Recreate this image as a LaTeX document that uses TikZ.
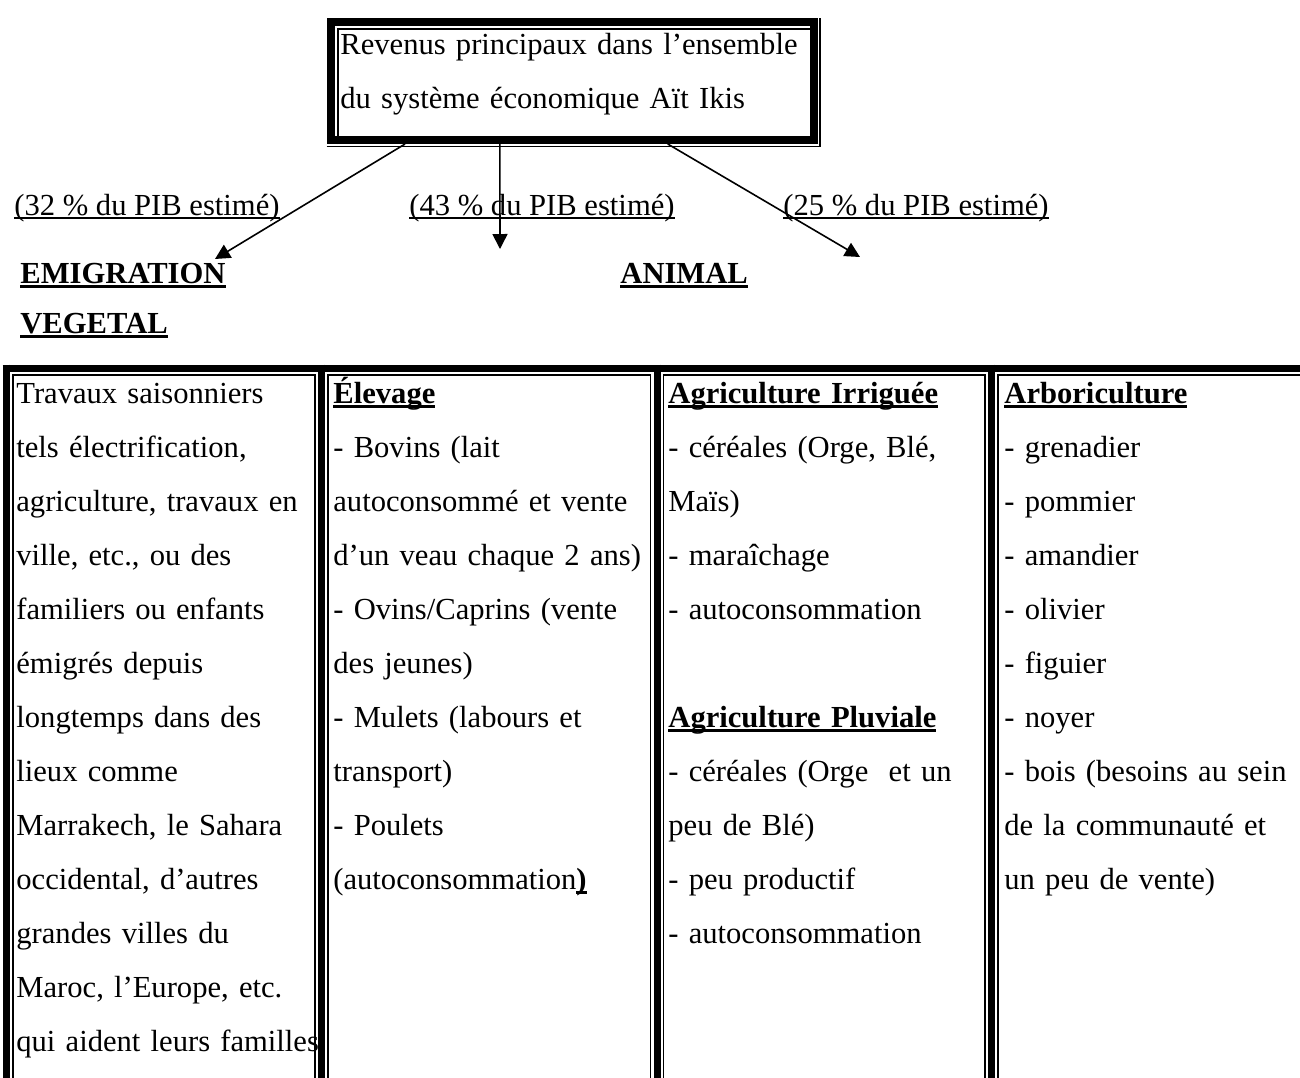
\documentclass[tikz,border=0pt]{standalone}
\usepackage{fontspec}
\setmainfont{Liberation Serif}
\usetikzlibrary{arrows.meta,calc}
\newsavebox{\boitesoul}
\newcommand{\souligne}[1]{\leavevmode\sbox{\boitesoul}{#1}\rlap{\rule[-2pt]{\wd\boitesoul}{1pt}}\usebox{\boitesoul}}
\newcommand{\titre}[1]{\leavevmode\sbox{\boitesoul}{\textbf{#1}}\rlap{\rule[-2.4pt]{\wd\boitesoul}{1.3pt}}\usebox{\boitesoul}}
\begin{document}
\begin{tikzpicture}[x=0.5pt,y=-0.5pt,
		texte/.style={inner sep=0pt,font=\fontsize{15.3}{27}\selectfont},
		colonne/.style={texte,text width=160pt,align=left,anchor=base west},
		etiq/.style={texte,anchor=base west},
		epais/.style={line width=3.5pt},
		fin/.style={line width=0.75pt},
		fleche/.style={-{Triangle[length=7.5pt,width=7.5pt]},line width=0.8pt},
		boite/.style={draw,line width=4pt,minimum width=241.5pt,minimum height=59pt,inner sep=0pt}]
			\clip (0,0) rectangle (1300,1077);
			% cadre du haut
			\node[boite] (cadre) at (572,81) {};
			\draw[fin] ([shift={(11.5,0)}]cadre.south west) |- ([shift={(0,11)}]cadre.north east);
			\draw[fin] ([shift={(0,2.5)}]cadre.south west) -| ([shift={(2.5,0)}]cadre.north east);
			\node[colonne,text width=235pt] (rev) at (340,54) {Revenus principaux dans l’ensemble\\du système économique Aït Ikis};
			% parts du PIB
			\node[etiq] (p32) at (14,215) {\souligne{(32 \% du PIB estimé)}};
			\node[etiq] (p43) at (409,215) {\souligne{(43 \% du PIB estimé)}};
			\node[etiq] (p25) at (783,215) {\souligne{(25 \% du PIB estimé)}};
			\node[etiq] (emig) at (20,283) {\titre{EMIGRATION}};
			\node[etiq] (anim) at (620,283) {\titre{ANIMAL}};
			\node[etiq] (veget) at (20,333) {\titre{VEGETAL}};
			\coordinate (v1) at (215,259);
			\coordinate (v2) at (500,249);
			\coordinate (v3) at (860,257);
			\draw[fleche] ($(cadre.south west)!0.16!(cadre.south east)$) -- (v1);
			\draw[fleche] ($(cadre.south west)!0.353!(cadre.south east)$) -- (v2);
			\draw[fleche] ($(cadre.south west)!0.695!(cadre.south east)$) -- (v3);
			% tableau
			\draw[epais] (2.5,368) -- (1310,368);
			\draw[epais] (6,364.5) -- (6,1080) (321.5,364.5) -- (321.5,1080) (657,364.5) -- (657,1080) (991.5,364.5) -- (991.5,1080);
			\draw[fin] (13,1080) -- (13,375) -- (315,375) -- (315,1080);
			\draw[fin] (328,1080) -- (328,375) -- (650.5,375) -- (650.5,1080);
			\draw[fin] (663.5,1080) -- (663.5,375) -- (985,375) -- (985,1080);
			\draw[fin] (998,1080) -- (998,375) -- (1310,375);
			\node[colonne] (trav) at (16,403) {Travaux saisonniers\\tels électrification,\\agriculture, travaux en\\ville, etc., ou des\\familiers ou enfants\\émigrés depuis\\longtemps dans des\\lieux comme\\Marrakech, le Sahara\\occidental, d’autres\\grandes villes du\\Maroc, l’Europe, etc.\\qui aident leurs familles};
			\node[colonne] (elev) at (333,403) {\titre{Élevage}\\- Bovins (lait\\autoconsommé et vente\\d’un veau chaque 2 ans)\\- Ovins/Caprins (vente\\des jeunes)\\- Mulets (labours et\\transport)\\- Poulets\\(autoconsommation\titre{)}};
			\node[colonne] (agri) at (668,403) {\titre{Agriculture Irriguée}\\- céréales (Orge, Blé,\\Maïs)\\- maraîchage\\- autoconsommation\\[27pt]\titre{Agriculture Pluviale}\\- céréales (Orge~ et un\\peu de Blé)\\- peu productif\\- autoconsommation};
			\node[colonne] (arbo) at (1004,403) {\titre{Arboriculture}\\- grenadier\\- pommier\\- amandier\\- olivier\\- figuier\\- noyer\\- bois (besoins au sein\\de la communauté et\\un peu de vente)};
	\end{tikzpicture}
\end{document}
